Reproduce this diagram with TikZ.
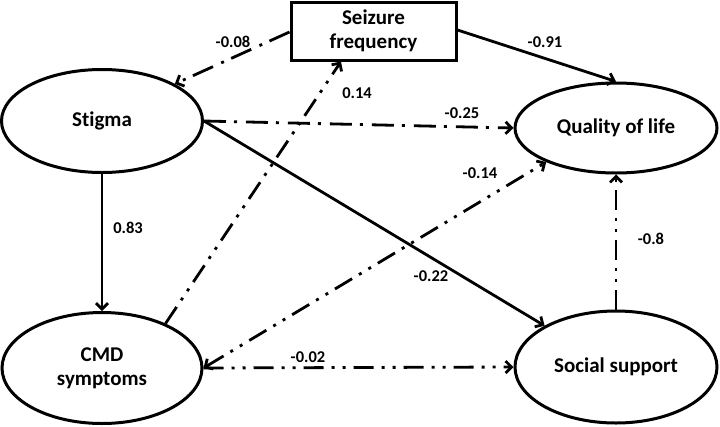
\documentclass[tikz,border=0pt]{standalone}
\usepackage{fontspec}
\setmainfont{Carlito}[Ligatures=NoCommon]
\usetikzlibrary{shapes.geometric,arrows.meta}
\begin{document}
\begin{tikzpicture}[x=1pt,y=-1pt,
  >={Straight Barb[length=6pt,width=12pt]},
  ell/.style={ellipse,draw,line width=3pt,inner sep=0pt,font=\fontsize{21}{24}\selectfont\bfseries,align=center},
  boxn/.style={rectangle,draw,line width=3pt,inner sep=0pt,font=\fontsize{21}{24}\selectfont\bfseries,align=center},
  conn/.style={line width=2.8pt},
  dashdot/.style={dash pattern=on 22pt off 8pt on 3pt off 9pt},
  dashdotdot/.style={dash pattern=on 20pt off 8pt on 3pt off 8pt on 3pt off 8pt},
  lab/.style={font=\fontsize{16.5}{18}\selectfont\bfseries,inner sep=0pt}]
\useasboundingbox (0,0) rectangle (720,426);
\node[ell,minimum width=201pt,minimum height=103pt] (stig) at (102,121) {Stigma};
\node[ell,minimum width=200pt,minimum height=111pt] (cmd) at (102,368) {CMD\\symptoms};
\node[ell,minimum width=202pt,minimum height=90pt] (qol) at (616,128) {Quality of life};
\node[ell,minimum width=202pt,minimum height=112pt] (soc) at (616,367) {Social support};
\node[boxn,minimum width=165pt,minimum height=58pt] (sz) at (373.5,31) {Seizure\\frequency};
% connectors
\draw[conn,dashdot,->] (sz.west |- 0,32) coordinate (szw) -- (stig.27);
\draw[conn,->] (sz.east |- 0,30) -- (qol.north);
\draw[conn,dashdot,->] (stig.east) -- (qol.west);
\draw[conn,->] (stig.east) -- (soc.150);
\draw[conn,->] (stig.south) -- (cmd.north);
\draw[conn,dashdotdot,->] (cmd.35) -- (sz.south -| 341,0);
\draw[conn,dashdotdot,<->] (cmd.east) -- (qol.206);
\draw[conn,dashdotdot,->] (cmd.east) -- (soc.west);
\draw[conn,dashdotdot,->] (soc.north) -- (qol.south);
% labels
\node[lab] (l1) at (233,42) {-0.08};
\node[lab] (l2) at (545,42) {-0.91};
\node[lab] (l3) at (357,93) {0.14};
\node[lab] (l4) at (462,113) {-0.25};
\node[lab] (l5) at (480,173) {-0.14};
\node[lab] (l6) at (128,228) {0.83};
\node[lab] (l7) at (431,276) {-0.22};
\node[lab] (l8) at (651,239) {-0.8};
\node[lab] (l9) at (308,357) {-0.02};
\end{tikzpicture}
\end{document}
